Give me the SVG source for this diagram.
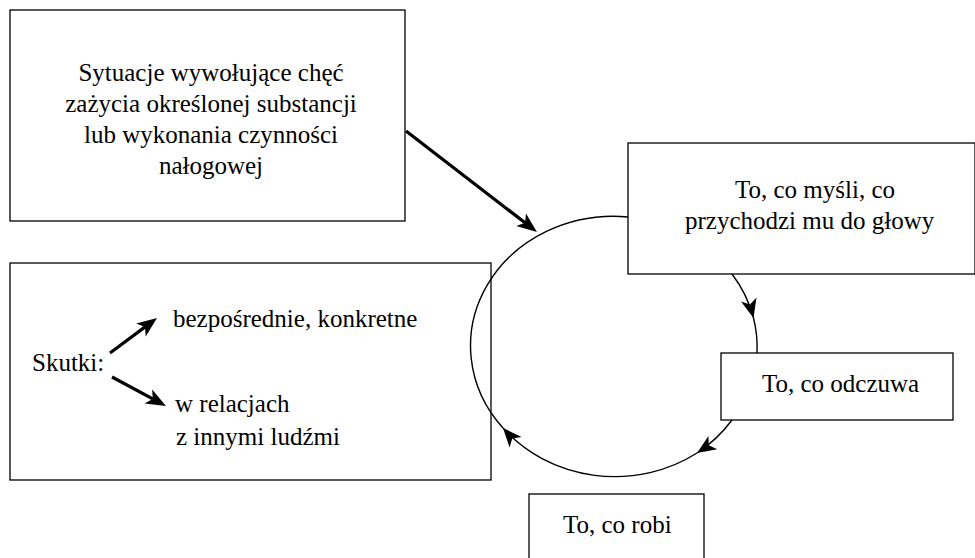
<svg xmlns="http://www.w3.org/2000/svg" width="975" height="558" viewBox="0 0 975 558">
<style>
.box{fill:#fff;stroke:#000;stroke-width:1.3}
.open{fill:none;stroke:#000;stroke-width:1.3}
.t{font-family:'Liberation Serif','Times New Roman','DejaVu Serif',serif;font-size:25px;fill:#000}
.arc{fill:none;stroke:#000;stroke-width:1.4}
.thick{fill:none;stroke:#000;stroke-width:3.2}
</style>
<defs>
<marker id="ah" markerUnits="userSpaceOnUse" markerWidth="20" markerHeight="16" refX="19" refY="8" orient="auto" overflow="visible">
<path d="M0,0 L19,8 L0,16 L5,8 Z" fill="#000"/>
</marker>
<marker id="ahb" markerUnits="userSpaceOnUse" markerWidth="20" markerHeight="16" refX="14" refY="8" orient="auto" overflow="visible">
<path d="M0,0 L20,8 L0,16 L5,8 Z" fill="#000"/>
</marker>
</defs>
<g id="n-sytuacje">
<rect class="box" x="10" y="10" width="395" height="211"/>
<text class="t" text-anchor="middle"><tspan x="211" y="81">Sytuacje wywołujące chęć</tspan><tspan x="211" y="112">zażycia określonej substancji</tspan><tspan x="211" y="143">lub wykonania czynności</tspan><tspan x="211" y="174">nałogowej</tspan></text>
</g>
<g id="n-skutki">
<rect class="open" x="10" y="263" width="481" height="217"/>
<text class="t" x="32" y="371">Skutki:</text>
<text class="t" x="173" y="327">bezpośrednie, konkretne</text>
<text class="t"><tspan x="175" y="412">w relacjach</tspan><tspan x="176" y="445">z innymi ludźmi</tspan></text>
<path class="thick" d="M110,353 L152.2,321.6" marker-end="url(#ahb)"/>
<path class="thick" d="M112,377 L160.7,403.2" marker-end="url(#ahb)"/>
</g>
<g id="n-mysli">
<rect class="box" x="628" y="143" width="347" height="131"/>
<text class="t"><tspan x="735" y="198">To, co myśli, co</tspan><tspan x="685" y="229">przychodzi mu do głowy</tspan></text>
</g>
<g id="n-odczuwa">
<rect class="box" x="721" y="353" width="232" height="67"/>
<text class="t" x="762" y="392">To, co odczuwa</text>
</g>
<g id="n-robi">
<rect class="box" x="529" y="494" width="175" height="70"/>
<text class="t" x="563" y="533">To, co robi</text>
</g>
<g id="connectors">
<path class="thick" d="M406,131 L532.2,228.3" marker-end="url(#ahb)"/>
<path class="arc" d="M732,274 A143,129.5 0 0 1 753.5,318" marker-end="url(#ah)"/>
<path class="arc" d="M753.5,318 A143,129.5 0 0 1 757,353"/>
<path class="arc" d="M732,420 A143,129.5 0 0 1 697,453" marker-end="url(#ah)"/>
<path class="arc" d="M697,453 A143,129.5 0 0 1 503,428" marker-end="url(#ah)"/>
<path class="arc" d="M503,428 A143,129.5 0 0 1 628,217"/>
</g>
</svg>
